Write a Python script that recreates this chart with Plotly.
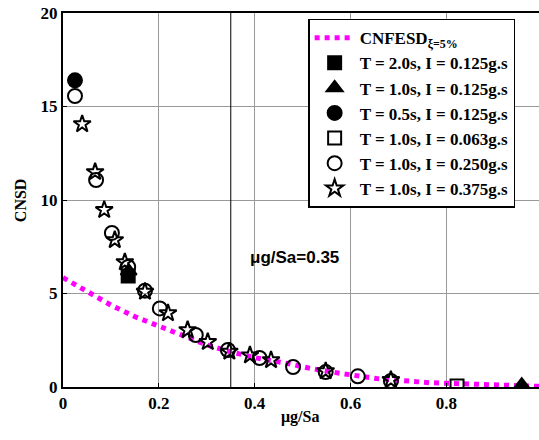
import plotly.graph_objects as go

# CNFESD (xi = 5%) design curve
cnfesd_x = [0.0, 0.056, 0.1, 0.15, 0.202, 0.251, 0.3, 0.348, 0.4, 0.466, 0.515, 0.574, 0.654, 0.765, 0.877, 1.0]
cnfesd_y = [5.85, 5.01, 4.38, 3.76, 3.22, 2.69, 2.25, 1.89, 1.57, 1.27, 1.0, 0.75, 0.45, 0.23, 0.11, 0.03]

# Series data (mu_g/Sa, CNSD)
sq_fill_x = [0.136]
sq_fill_y = [5.94]
tri_fill_x = [0.137, 0.957]
tri_fill_y = [6.2, 0.1]
circ_fill_x = [0.025]
circ_fill_y = [16.4]
sq_open_x = [0.822]
sq_open_y = [0.06]
circ_open_x = [0.025, 0.069, 0.102, 0.136, 0.171, 0.202, 0.277, 0.344, 0.41, 0.48, 0.548, 0.615, 0.684]
circ_open_y = [15.56, 11.07, 8.24, 6.42, 5.15, 4.2, 2.78, 1.98, 1.55, 1.07, 0.8, 0.57, 0.32]
star_x = [0.04, 0.067, 0.086, 0.108, 0.129, 0.171, 0.219, 0.26, 0.302, 0.347, 0.39, 0.434, 0.548, 0.684]
star_y = [14.06, 11.5, 9.47, 7.86, 6.68, 5.1, 3.95, 3.05, 2.41, 1.9, 1.7, 1.44, 0.85, 0.38]

ref_x = 0.35
ref_label = "μg/Sa=0.35"
x_ticks = [0, 0.2, 0.4, 0.6, 0.8]
x_tick_text = ["0", "0.2", "0.4", "0.6", "0.8"]
y_ticks = [0, 5, 10, 15, 20]

serif = "Liberation Serif, Times New Roman, serif"

fig = go.Figure()
fig.add_trace(go.Scatter(x=cnfesd_x, y=cnfesd_y, mode="lines", name="CNFESD<sub>ξ=5%</sub>",
                         line=dict(color="#ff00ff", width=5, dash="dot")))

def add(xs, ys, name, symbol, size=14):
    fig.add_trace(go.Scatter(
        x=xs, y=ys, mode="markers", name=name,
        marker=dict(symbol=symbol, size=size, color="black",
                    line=dict(color="black", width=2))))

add(sq_fill_x, sq_fill_y, "T = 2.0s, I = 0.125g.s", "square", 13)
add(tri_fill_x, tri_fill_y, "T = 1.0s, I = 0.125g.s", "triangle-up", 14)
add(circ_fill_x, circ_fill_y, "T = 0.5s, I = 0.125g.s", "circle", 14)
add(sq_open_x, sq_open_y, "T = 1.0s, I = 0.063g.s", "square-open", 13)
add(circ_open_x, circ_open_y, "T = 1.0s, I = 0.250g.s", "circle-open", 14)
add(star_x, star_y, "T = 1.0s, I = 0.375g.s", "star-open", 13)

fig.add_shape(type="line", xref="x", yref="paper", x0=ref_x, x1=ref_x, y0=0, y1=1,
              line=dict(color="black", width=1))
fig.add_annotation(x=0.482, y=6.9, text="<b>" + ref_label + "</b>", showarrow=False,
                   font=dict(family="Liberation Sans, Arial", size=17, color="black"))

# axis titles
fig.add_annotation(xref="paper", yref="paper", x=0.498, y=-0.08, xanchor="center", yanchor="middle",
                   text="<b>μg/Sa</b>", showarrow=False,
                   font=dict(family=serif, size=16, color="black"))
fig.add_annotation(xref="paper", yref="paper", x=-0.09, y=0.5, xanchor="center", yanchor="middle",
                   textangle=-90, text="<b>CNSD</b>", showarrow=False,
                   font=dict(family=serif, size=16, color="black"))

fig.update_layout(
    width=539, height=440,
    margin=dict(l=63, r=0, t=13, b=53, autoexpand=False),
    paper_bgcolor="white", plot_bgcolor="white",
    font=dict(family=serif, size=16, color="black"),
    showlegend=True,
    legend=dict(x=0.515, y=0.985, xanchor="left", yanchor="top",
                bgcolor="white", bordercolor="black", borderwidth=1.5,
                font=dict(family=serif, size=17, color="black", weight="bold"),
                tracegroupgap=0, itemwidth=40),
)
fig.update_xaxes(range=[0, 0.993], tickvals=x_ticks, ticktext=x_tick_text,
                 showgrid=True, gridcolor="#999999", gridwidth=1, automargin=False,
                 showline=True, linecolor="black", linewidth=2, mirror=True,
                 ticks="inside", ticklen=4, tickcolor="black", zeroline=False,
                 ticklabeloverflow="allow",
                 tickfont=dict(family=serif, size=17, weight="bold"))
fig.update_yaxes(range=[0, 20], tickvals=y_ticks,
                 showgrid=True, gridcolor="#999999", gridwidth=1, automargin=False,
                 showline=True, linecolor="black", linewidth=2, mirror=True,
                 ticks="inside", ticklen=4, tickcolor="black", zeroline=False,
                 ticklabeloverflow="allow",
                 tickfont=dict(family=serif, size=17, weight="bold"))

# remove the browser's default 8px body margin so the figure sits at the window's top-left
fig.write_html("out.html", config={"displayModeBar": False},
               post_script="document.body.style.margin='0px';")
